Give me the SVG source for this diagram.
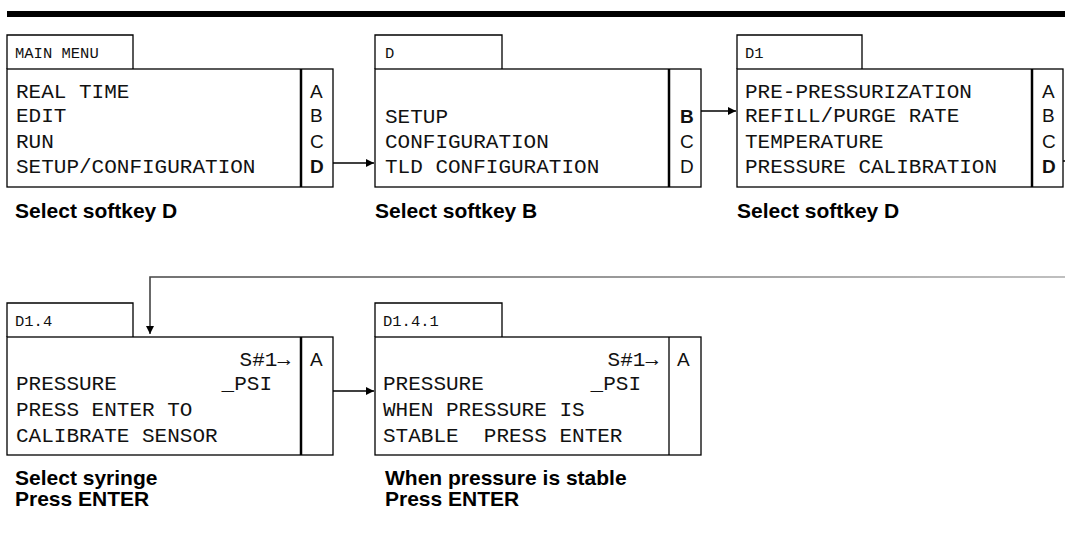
<svg xmlns="http://www.w3.org/2000/svg" width="1065" height="542" viewBox="0 0 1065 542">
<style>
.box{fill:none;stroke:#000;stroke-width:1.3}
.dv{stroke:#000;stroke-width:2.5}
.dvt{stroke:#000;stroke-width:1.3}
.mono{font-family:"Liberation Mono","DejaVu Sans Mono",monospace;font-size:21px;fill:#111}
.tab{font-family:"Liberation Mono","DejaVu Sans Mono",monospace;font-size:15.5px;fill:#111}
.key{font-family:"Liberation Sans",Arial,sans-serif;font-size:19px;fill:#111}
.b{font-weight:bold}
.lbl{font-family:"Liberation Sans",Arial,sans-serif;font-size:21px;font-weight:bold;fill:#000}
.con{fill:none;stroke:#000;stroke-width:1.3}
</style>
<defs>
<marker id="ah" markerUnits="userSpaceOnUse" markerWidth="9" markerHeight="9" refX="8" refY="4" orient="auto">
<path d="M0,0 L8,4 L0,8 z" fill="#000"/>
</marker>
<linearGradient id="gl" gradientUnits="userSpaceOnUse" x1="150" y1="0" x2="1065" y2="0">
<stop offset="0" stop-color="#444"/>
<stop offset="1" stop-color="#aaa"/>
</linearGradient>
</defs>
<rect x="7" y="11" width="1058" height="6" fill="#000"/>

<g id="main-menu">
<path class="box" d="M7,69 V35 H133 V69"/>
<rect class="box" x="7" y="69" width="326" height="118"/>
<line class="dv" x1="301" y1="69" x2="301" y2="187"/>
<text class="tab" x="15" y="58">MAIN MENU</text>
<text class="mono" x="16" y="98">REAL TIME</text>
<text class="mono" x="16" y="122">EDIT</text>
<text class="mono" x="16" y="148">RUN</text>
<text class="mono" x="16" y="173">SETUP/CONFIGURATION</text>
<text class="key" x="310" y="98">A</text>
<text class="key" x="310" y="122">B</text>
<text class="key" x="310" y="148">C</text>
<text class="key b" x="310" y="173">D</text>
<text class="lbl" x="15" y="218">Select softkey D</text>
</g>

<g id="menu-d">
<path class="box" d="M375,69 V35 H502 V69"/>
<rect class="box" x="375" y="69" width="326" height="118"/>
<line class="dv" x1="669" y1="69" x2="669" y2="187"/>
<text class="tab" x="385" y="58">D</text>
<text class="mono" x="385" y="123">SETUP</text>
<text class="mono" x="385" y="148">CONFIGURATION</text>
<text class="mono" x="385" y="173">TLD CONFIGURATION</text>
<text class="key b" x="680" y="123">B</text>
<text class="key" x="680" y="148">C</text>
<text class="key" x="680" y="173">D</text>
<text class="lbl" x="375" y="218">Select softkey B</text>
</g>

<g id="menu-d1">
<path class="box" d="M737,69 V35 H862 V69"/>
<rect class="box" x="737" y="69" width="326" height="118"/>
<line class="dv" x1="1032" y1="69" x2="1032" y2="187"/>
<text class="tab" x="745" y="58">D1</text>
<text class="mono" x="745" y="98">PRE-PRESSURIZATION</text>
<text class="mono" x="745" y="122">REFILL/PURGE RATE</text>
<text class="mono" x="745" y="148">TEMPERATURE</text>
<text class="mono" x="745" y="173">PRESSURE CALIBRATION</text>
<text class="key" x="1042" y="98">A</text>
<text class="key" x="1042" y="122">B</text>
<text class="key" x="1042" y="148">C</text>
<text class="key b" x="1042" y="173">D</text>
<text class="lbl" x="737" y="218">Select softkey D</text>
</g>

<g id="screen-d1-4">
<path class="box" d="M7,337 V303 H133 V337"/>
<rect class="box" x="7" y="337" width="326" height="118"/>
<line class="dv" x1="301" y1="337" x2="301" y2="455"/>
<text class="tab" x="15" y="326">D1.4</text>
<text class="mono" x="290" y="366" text-anchor="end">S#1→</text>
<text class="mono" x="16" y="390">PRESSURE</text>
<text class="mono" x="272" y="390" text-anchor="end">_PSI</text>
<text class="mono" x="16" y="416">PRESS ENTER TO</text>
<text class="mono" x="16" y="442">CALIBRATE SENSOR</text>
<text class="key" x="310" y="366">A</text>
<text class="lbl" x="15" y="485">Select syringe</text>
<text class="lbl" x="15" y="506">Press ENTER</text>
</g>

<g id="screen-d1-4-1">
<path class="box" d="M375,337 V303 H502 V337"/>
<rect class="box" x="375" y="337" width="326" height="118"/>
<line class="dvt" x1="669" y1="337" x2="669" y2="455"/>
<text class="tab" x="383" y="326">D1.4.1</text>
<text class="mono" x="658" y="366" text-anchor="end">S#1→</text>
<text class="mono" x="383" y="390">PRESSURE</text>
<text class="mono" x="641" y="390" text-anchor="end">_PSI</text>
<text class="mono" x="383" y="416">WHEN PRESSURE IS</text>
<text class="mono" x="383" y="442" xml:space="preserve" style="white-space:pre">STABLE  PRESS ENTER</text>
<text class="key" x="677" y="366">A</text>
<text class="lbl" x="385" y="485">When pressure is stable</text>
<text class="lbl" x="385" y="506">Press ENTER</text>
</g>

<g id="connectors">
<path class="con" d="M333,163 H374" marker-end="url(#ah)"/>
<path class="con" d="M701,111 H736" marker-end="url(#ah)"/>
<path class="con" d="M1063,161 H1065"/>
<path fill="none" stroke="url(#gl)" stroke-width="1.6" d="M1065,277 H150 V334" marker-end="url(#ah)"/>
<path class="con" d="M333,391 H374" marker-end="url(#ah)"/>
</g>
</svg>
